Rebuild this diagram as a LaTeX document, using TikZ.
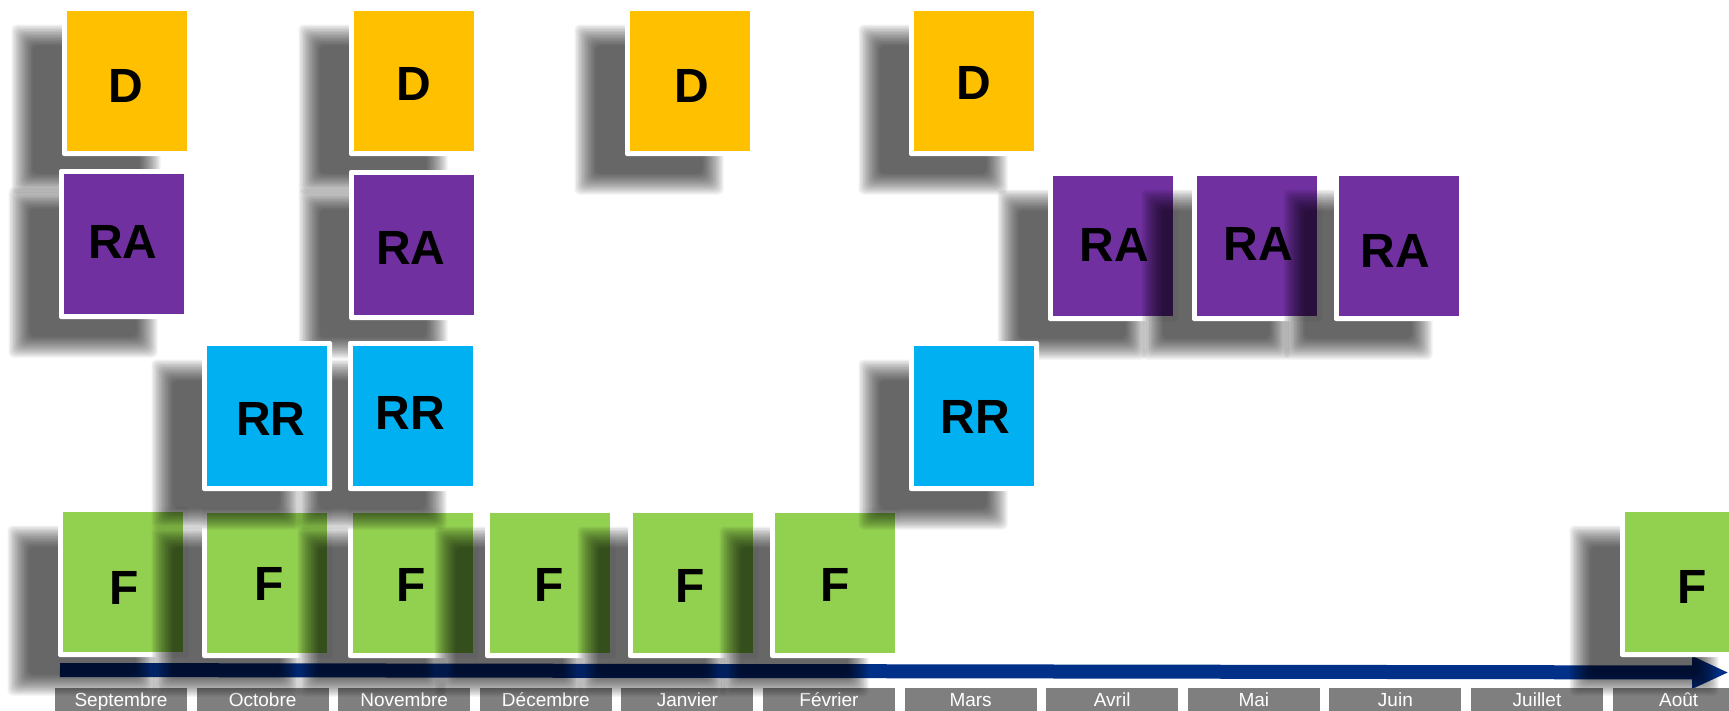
\documentclass[tikz,border=0pt]{standalone}
\usepackage{fontspec}
\setmainfont{Liberation Sans}
\usetikzlibrary{arrows.meta}
\definecolor{cD}{RGB}{255,192,0}
\definecolor{cRA}{RGB}{112,48,160}
\definecolor{cRR}{RGB}{0,176,240}
\definecolor{cF}{RGB}{146,208,80}
\definecolor{cMonth}{RGB}{127,127,127}
\definecolor{cArrow}{RGB}{0,48,135}
\tikzset{
 shadowlayer/.style={fill=black, opacity=0.058, rounded corners=5pt},
 whiteframe/.style={fill=white, rounded corners=2pt},
 card/.style={rectangle, inner sep=0pt, minimum width=120pt, minimum height=140pt, draw=none},
 cardtext/.style={inner sep=0pt, font=\fontsize{48}{48}\selectfont\bfseries, text=black},
 month/.style={rectangle, fill=cMonth, inner sep=0pt, minimum width=132pt, minimum height=26pt},
 monthtext/.style={inner sep=0pt, anchor=base, text=white, font=\fontsize{19}{19}\selectfont},
 timeline/.style={draw=cArrow, line width=14pt, -{Triangle[length=37pt,width=30pt]}},
}
% #1 name, #2 x1, #3 y1, #4 colour, #5 text x, #6 text y, #7 text
\newcommand\cardbox[7]{%
 \foreach \sh in {-10.5,-9,...,10.6}{%
   \fill[shadowlayer] ({#2-45+\sh},{#3+24+\sh}) rectangle ({#2+83-\sh},{#3+173-\sh});}
 \fill[whiteframe] ({#2-5},{#3-5}) rectangle ({#2+125},{#3+145});
 \node[card, fill=#4] (#1) at ({#2+60},{#3+70}) {};
 \node[cardtext] (#1t) at (#5,#6) {#7};
}
\begin{document}
\begin{tikzpicture}[x=1pt,y=-1pt]
\useasboundingbox (0,0) rectangle (1729,710);
\clip (0,0) rectangle (1729,710);
% timeline
\coordinate (axs) at (60,670);
\coordinate (axe) at (1729,672.5);
\draw[timeline] (axs) -- (axe);
% months
\foreach \mname [count=\i from 0] in {Septembre,Octobre,Novembre,Décembre,Janvier,Février,Mars,Avril,Mai,Juin,Juillet,Août}{%
 \node[month] (m\i) at ({121+\i*141.6},701) {};
 \node[monthtext] (mt\i) at ({121+\i*141.6},706) {\mname};
}
% D row
\cardbox{d1}{67}{11}{cD}{126}{85.5}{D}
\cardbox{d2}{354}{11}{cD}{414}{84}{D}
\cardbox{d3}{630}{11}{cD}{692}{85.5}{D}
\cardbox{d4}{914}{11}{cD}{974}{82.5}{D}
% RA row
\cardbox{ra1}{64}{174}{cRA}{123}{241.5}{RA}
\cardbox{ra2}{354}{175}{cRA}{411}{248}{RA}
\cardbox{ra3}{1053}{176}{cRA}{1114.5}{245}{RA}
\cardbox{ra4}{1197}{176}{cRA}{1258.5}{243.5}{RA}
\cardbox{ra5}{1339}{176}{cRA}{1395.5}{251}{RA}
% F row
\cardbox{f1}{63}{512}{cF}{124}{587.5}{F}
\cardbox{f2}{207}{513}{cF}{269}{583.5}{F}
\cardbox{f3}{353}{513}{cF}{411.5}{585}{F}
\cardbox{f4}{490}{513}{cF}{549}{585}{F}
\cardbox{f5}{633}{513}{cF}{690.5}{585.5}{F}
\cardbox{f6}{775}{513}{cF}{835}{584.5}{F}
\cardbox{f7}{1625}{512}{cF}{1692}{586.5}{F}
% RR row
\cardbox{rr2}{353}{346}{cRR}{410.5}{412.5}{RR}
\cardbox{rr1}{207}{346}{cRR}{271}{418.5}{RR}
\cardbox{rr3}{914}{346}{cRR}{975}{417}{RR}
\end{tikzpicture}
\end{document}
